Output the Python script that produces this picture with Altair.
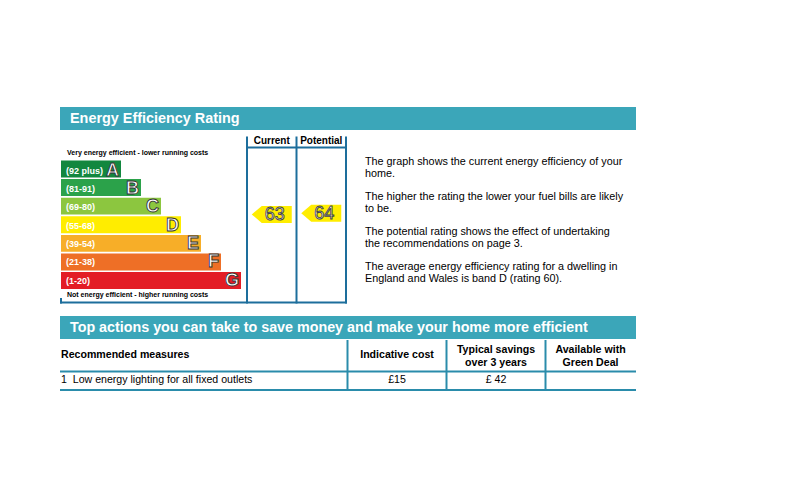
import altair as alt
import pandas as pd

# ---------------- data ----------------
bands = ["A", "B", "C", "D", "E", "F", "G"]
band_ranges = ["(92 plus)", "(81-91)", "(69-80)", "(55-68)", "(39-54)", "(21-38)", "(1-20)"]
band_lengths = [3, 4, 5, 6, 7, 8, 9]
band_colors = ["#12873f", "#2ba24a", "#8cc63f", "#ffed00", "#f7ae28", "#ee6f26", "#e31d25"]

rating_columns = ["Current", "Potential"]
ratings = [63, 64]
rating_bands = ["D", "D"]
band_d_range = [55, 68]

paragraphs = [
    ["The graph shows the current energy efficiency of your", "home."],
    ["The higher the rating the lower your fuel bills are likely", "to be."],
    ["The potential rating shows the effect of undertaking", "the recommendations on page 3."],
    ["The average energy efficiency rating for a dwelling in", "England and Wales is band D (rating 60)."],
]

title_1 = "Energy Efficiency Rating"
title_2 = "Top actions you can take to save money and make your home more efficient"
top_note = "Very energy efficient - lower running costs"
bottom_note = "Not energy efficient - higher running costs"

table_headers = [["Recommended measures"], ["Indicative cost"], ["Typical savings", "over 3 years"], ["Available with", "Green Deal"]]
table_rows = [["1\u00a0 Low energy lighting for all fixed outlets", "£15", "£ 42", ""]]

# ---------------- style ----------------
FONT = "Liberation Sans"
TEAL = "#3ba6b9"
FRAME = "#1d6e9c"
TLINE = "#2a8cab"

one = pd.DataFrame([{"k": 0}])


def box(x, x2, y, y2, color):
    return alt.Chart(one).mark_rect(color=color).encode(
        x=alt.value(x), x2=alt.value(x2), y=alt.value(y), y2=alt.value(y2))


def rule(x, x2, y, y2, color, w=2):
    return alt.Chart(one).mark_rule(color=color, strokeWidth=w).encode(
        x=alt.value(x), x2=alt.value(x2), y=alt.value(y), y2=alt.value(y2))


def label(text, x, y, size, bold=False, color="black", align="left", line_height=None):
    kw = {}
    if line_height is not None:
        kw["lineHeight"] = line_height
    return alt.Chart(one).mark_text(
        text=text, font=FONT, fontSize=size, fontWeight="bold" if bold else "normal",
        color=color, align=align, baseline="alphabetic", **kw
    ).encode(x=alt.value(x), y=alt.value(y))


layers = []

# header bars
layers.append(box(60, 636, 107, 130, TEAL))
layers.append(label(title_1, 70, 123, 14.4, bold=True, color="white"))
layers.append(box(60, 636, 316, 339, TEAL))
layers.append(label(title_2, 70, 332, 14.3, bold=True, color="white"))

# band bars
band_df = pd.DataFrame({"band": bands, "range": band_ranges, "length": band_lengths})
yband = alt.Scale(domain=bands, range=[160.5, 289], paddingInner=0.09, paddingOuter=0)
xlen = alt.Scale(domain=[0, 9], range=[61, 241])

layers.append(alt.Chart(band_df).mark_bar(cornerRadius=0).encode(
    y=alt.Y("band:N", scale=yband, axis=None),
    x=alt.X("length:Q", scale=xlen, axis=None),
    color=alt.Color("band:N", scale=alt.Scale(domain=bands, range=band_colors), legend=None),
))
layers.append(alt.Chart(band_df).mark_text(
    font=FONT, fontSize=9, fontWeight="bold", color="white", align="left", baseline="middle", dy=1
).encode(
    y=alt.Y("band:N", scale=yband, axis=None),
    x=alt.value(66),
    text="range:N",
))
layers.append(alt.Chart(band_df).mark_text(
    font=FONT, fontSize=18, fontWeight="bold", fill="white", stroke="#333333", strokeWidth=0.9,
    align="right", baseline="middle", dx=-2, dy=1
).encode(
    y=alt.Y("band:N", scale=yband, axis=None),
    x=alt.X("length:Q", scale=xlen, axis=None),
    text="band:N",
))

layers.append(label(top_note, 67, 154.5, 7, bold=True))
layers.append(label(bottom_note, 67, 296.7, 7, bold=True))

# current / potential frame
for xv in [247, 296.5, 346]:
    layers.append(rule(xv, xv, 136.5, 303.5, FRAME))
layers.append(rule(247, 346, 147.5, 147.5, FRAME))
layers.append(rule(60, 347, 302.5, 302.5, FRAME))
layers.append(rule(61, 61, 298, 303.5, FRAME))

rating_df = pd.DataFrame({"column": rating_columns, "rating": ratings, "band": rating_bands})
xcol = alt.Scale(domain=rating_columns, range=[247, 346], paddingInner=0, paddingOuter=0)
yoff = alt.Scale(domain=band_d_range, range=[8, -8])
arrow_path = "M-1,0L-0.5,-0.425L1,-0.425L1,0.425L-0.5,0.425Z"

layers.append(alt.Chart(rating_df).mark_text(
    font=FONT, fontSize=10, fontWeight="bold", color="black", align="center", baseline="alphabetic"
).encode(
    x=alt.X("column:N", scale=xcol, axis=None),
    y=alt.value(144),
    text="column:N",
))
layers.append(alt.Chart(rating_df).mark_point(
    shape=arrow_path, size=1600, filled=True, color="#ffed00", opacity=1, strokeWidth=0
).encode(
    x=alt.X("column:N", scale=xcol, axis=None),
    y=alt.Y("band:N", scale=yband, axis=None),
    yOffset=alt.YOffset("rating:Q", scale=yoff),
))
layers.append(alt.Chart(rating_df).mark_text(
    font=FONT, fontSize=18, fill="white", stroke="#444444", strokeWidth=0.9,
    align="center", baseline="middle", dx=3, dy=1
).encode(
    x=alt.X("column:N", scale=xcol, axis=None),
    y=alt.Y("band:N", scale=yband, axis=None),
    yOffset=alt.YOffset("rating:Q", scale=yoff),
    text="rating:Q",
))

# explanatory paragraphs
for i, p in enumerate(paragraphs):
    layers.append(label(p, 365, 165 + 35 * i, 10.8, line_height=11.5))

# table
for xv in [347.5, 446.5, 545.5]:
    layers.append(rule(xv, xv, 340, 391, TLINE))
layers.append(rule(60, 636, 371.5, 371.5, TLINE))
layers.append(rule(60, 636, 390, 390, TLINE))

col_x = [61, 397, 496, 590.5]
col_align = ["left", "center", "center", "center"]
for hdr, xv, al in zip(table_headers, col_x, col_align):
    if len(hdr) == 1:
        layers.append(label(hdr[0], xv, 358.3, 10.6, bold=True, align=al))
    else:
        layers.append(label(hdr, xv, 352.5, 10.6, bold=True, align=al, line_height=13))
for row in table_rows:
    for val, xv, al in zip(row, col_x, col_align):
        if val:
            layers.append(label(val, xv, 383, 10.6, align=al))

chart = alt.layer(*layers).properties(
    width=800, height=500, autosize="none", padding=0, background="white"
).resolve_scale(
    x="independent", y="independent", color="independent", yOffset="independent"
).configure_view(stroke=None)

chart.save("out.html", embed_options={"renderer": "svg", "actions": False})
